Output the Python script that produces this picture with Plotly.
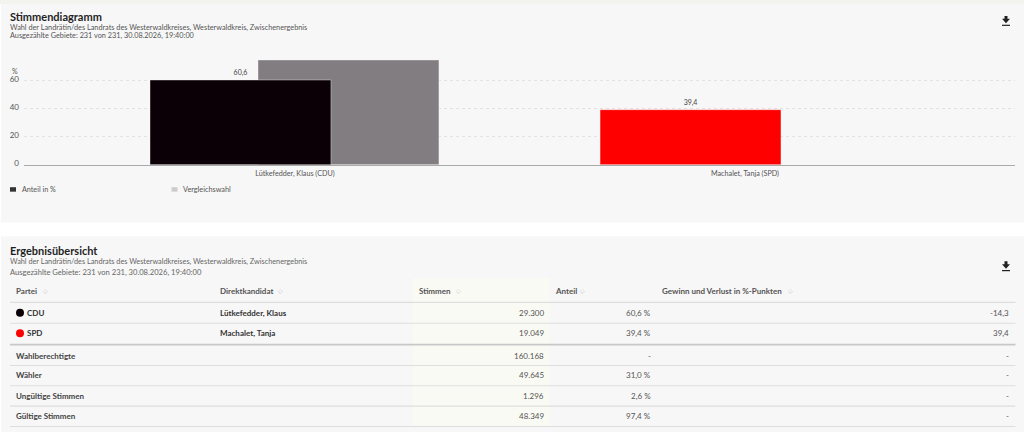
import plotly.graph_objects as go

W, H = 1024, 434
FONT = "Lato"
DY = 2  # page sits a little high in the photo

# chart data
candidates = ["Lütkefedder, Klaus (CDU)", "Machalet, Tanja (SPD)"]
anteil = [60.6, 39.4]
vergleich = [74.9, None]
bar_colors = ["#0a0006", "#ff0000"]
y_ticks = [0, 20, 40, 60]

# table data
header = ["Partei", "Direktkandidat", "Stimmen", "Anteil", "Gewinn und Verlust in %-Punkten"]
row_names = ["CDU", "SPD", "Wahlberechtigte", "Wähler", "Ungültige Stimmen", "Gültige Stimmen"]
row_candidates = ["Lütkefedder, Klaus", "Machalet, Tanja", "", "", "", ""]
row_votes = ["29.300", "19.049", "160.168", "49.645", "1.296", "48.349"]
row_share = ["60,6 %", "39,4 %", "-", "31,0 %", "2,6 %", "97,4 %"]
row_diff = ["-14,3", "39,4", "-", "-", "-", "-"]
dot_colors = ["#0a0006", "#ff0000"]

subtitle = "Wahl der Landrätin/des Landrats des Westerwaldkreises, Westerwaldkreis, Zwischenergebnis"
counted = "Ausgezählte Gebiete: 231 von 231, 30.08.2026, 19:40:00"


def px(x):
    return x / W


def py(y):
    return 1 - (y + DY) / H


shapes = []
annotations = []


def box(x0, y0, x1, y1, color):
    shapes.append(dict(type="rect", xref="paper", yref="paper", x0=px(x0), x1=px(x1),
                       y0=py(y0), y1=py(y1), fillcolor=color, line_width=0, layer="below"))


def hline(y, x0, x1, color, width=1):
    shapes.append(dict(type="line", xref="paper", yref="paper", x0=px(x0), x1=px(x1),
                       y0=py(y), y1=py(y), line=dict(color=color, width=width), layer="below"))


def label(x, y, text, size=8, color="#555555", bold=False, anchor="left"):
    if bold:
        text = f"<b>{text}</b>"
    annotations.append(dict(xref="paper", yref="paper", x=px(x), y=py(y), text=text,
                            showarrow=False, xanchor=anchor, yanchor="middle",
                            borderpad=0, borderwidth=0,
                            font=dict(family=FONT, size=size, color=color)))


def download_icon(cx, top):
    pts = [(cx - 1.5, top), (cx + 1.5, top), (cx + 1.5, top + 3), (cx + 4, top + 3),
           (cx, top + 7.5), (cx - 4, top + 3), (cx - 1.5, top + 3)]
    path = "M " + " L ".join(f"{px(a):.5f},{py(b):.5f}" for a, b in pts) + " Z"
    shapes.append(dict(type="path", xref="paper", yref="paper", path=path,
                       fillcolor="#222222", line_width=0))
    hline(top + 9.5, cx - 4, cx + 4, "#222222", 1.2)


# panels
box(0, -DY, W, 2, "#f4f4ee")
box(1, 2, W, 222, "#f7f7f7")
box(1, 236, W, 433, "#f7f7f7")

# chart panel texts
label(10, 15, "Stimmendiagramm", size=11, color="#1f1f1f", bold=True)
label(10, 25.5, subtitle, size=7.3)
label(10, 33.5, counted, size=7.3)
label(15, 69, "%", size=7, anchor="center")
download_icon(1006, 14)

# legend
box(10, 186.5, 16, 191, "#333333")
label(22, 188.5, "Anteil in %", size=7.2)
box(171.5, 186.5, 177.5, 191, "#cccccc")
label(183, 188.5, "Vergleichswahl", size=7.3)

# table panel
label(10, 250, "Ergebnisübersicht", size=11, color="#1f1f1f", bold=True)
label(10, 261.5, subtitle, size=7.3, color="#666666")
label(10, 272, counted, size=7.6, color="#666666")
download_icon(1006, 261)

box(413, 278, 549.5, 428, "#fafaf4")

col_x = [16, 219.5, 418.5, 554.5, 662]
sort_x = [45, 280.5, 458, 582, 790.5]
for x, sx, name in zip(col_x, sort_x, header):
    label(x, 291, name, color="#555555", bold=True)
    label(sx, 291, "◇", size=6, color="#bbbbbb", anchor="center")

row_y = [313, 333.5, 356, 376, 396.5, 417]
line_y = [302.5, 323.5, 345, 366, 386.5, 407, 427.5]
for i, y in enumerate(line_y):
    hline(y, 10, 1015.5, "#c8c8c8" if i == 2 else "#dedede", 1.6 if i == 2 else 1.1)

for i, y in enumerate(row_y):
    if i < len(dot_colors):
        shapes.append(dict(type="circle", xref="paper", yref="paper",
                           x0=px(16), x1=px(24), y0=py(y - 4), y1=py(y + 4),
                           fillcolor=dot_colors[i], line_width=0))
        label(26.5, y, row_names[i], color="#333333", bold=True)
    else:
        label(16, y, row_names[i], color="#444444", bold=True)
    label(219.5, y, row_candidates[i], color="#333333", bold=True)
    label(543.5, y, row_votes[i], anchor="right")
    label(650.5, y, row_share[i], anchor="right")
    label(1009, y, row_diff[i], anchor="right")

# bars: the grey comparison bar sits behind the result bar
fig = go.Figure()
fig.add_trace(go.Bar(
    x=candidates, y=vergleich, name="Vergleichswahl", width=0.402, offset=-0.082,
    marker=dict(color="#827d80", line=dict(color="#f7f7f7", width=0.4)),
))
fig.add_trace(go.Bar(
    x=candidates, y=anteil, name="Anteil in %", width=0.402, offset=-0.322,
    marker=dict(color=bar_colors, line=dict(color="#f7f7f7", width=0.4)),
    texttemplate="%{y:.1f}", textposition="outside", cliponaxis=False,
    textfont=dict(family=FONT, size=7, color="#444444"),
))

fig.update_layout(
    width=W, height=H,
    margin=dict(l=0, r=0, t=0, b=0),
    paper_bgcolor="#ffffff", plot_bgcolor="rgba(0,0,0,0)",
    barmode="overlay", separators=",.", showlegend=False,
    font=dict(family=FONT, size=7.2, color="#555555"),
    shapes=shapes, annotations=annotations,
    xaxis=dict(
        domain=[px(24), px(1015)], range=[-0.602, 1.6], type="category",
        categoryorder="array", categoryarray=candidates,
        showgrid=False, zeroline=False, ticks="", ticklabelstandoff=1,
        showline=True, linecolor="#aaaaaa", linewidth=1.4,
        anchor="y", tickfont=dict(family=FONT, size=7.2, color="#555555"),
    ),
    yaxis=dict(
        domain=[py(164), py(49)], range=[0, 115 / 1.41],
        tickmode="array", tickvals=y_ticks, ticks="", ticklabelshift=-2,
        ticklabelstandoff=4,
        showgrid=True, gridcolor="#e2e2e2", griddash="dot", gridwidth=1,
        zeroline=False, showline=False,
        tickfont=dict(family=FONT, size=8, color="#555555"),
    ),
)

fig.write_html("out.html", config={"displayModeBar": False},
               post_script="document.body.style.margin='0';document.body.style.overflow='hidden';")
